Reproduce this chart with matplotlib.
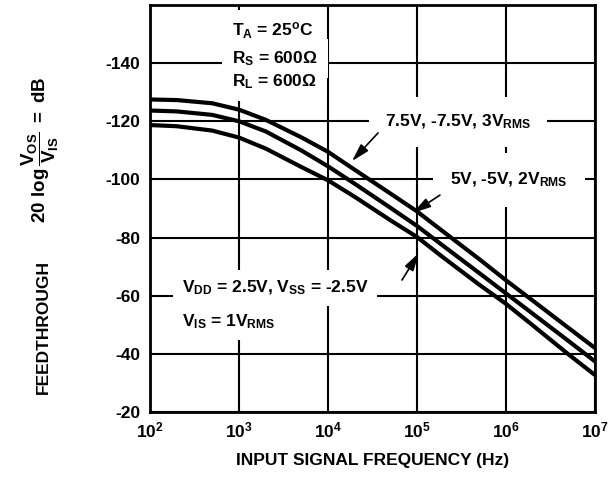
import matplotlib
matplotlib.use('Agg')
import matplotlib.pyplot as plt
from matplotlib.ticker import NullLocator

plt.rcParams['font.family'] = ['Liberation Sans', 'DejaVu Sans']
plt.rcParams['font.weight'] = 'bold'
plt.rcParams['axes.labelweight'] = 'bold'
plt.rcParams['mathtext.fontset'] = 'custom'
plt.rcParams['mathtext.rm'] = 'Liberation Sans:bold'
plt.rcParams['mathtext.it'] = 'Liberation Sans:bold'
plt.rcParams['mathtext.bf'] = 'Liberation Sans:bold'

# データ
freq = [1e2, 2e2, 5e2, 1e3, 2e3, 5e3, 1e4, 2e4, 5e4, 1e5, 2e5, 5e5, 1e6, 2e6, 5e6, 1e7]
ft_75 = [-127.5, -127.3, -126.2, -124.0, -120.5, -114.5, -109.5, -103.3, -95.2,
         -89.0, -81.9, -72.6, -65.3, -58.3, -49.0, -42.0]
ft_5 = [-123.7, -123.4, -122.2, -120.0, -116.5, -110.0, -104.5, -98.5, -90.3,
        -84.0, -77.0, -67.8, -60.8, -53.8, -44.5, -37.4]
ft_25 = [-118.7, -118.3, -116.8, -114.4, -110.6, -104.3, -99.7, -94.0, -86.0,
         -80.2, -73.0, -63.8, -57.2, -49.8, -39.9, -32.7]

x_ticks = [1e2, 1e3, 1e4, 1e5, 1e6, 1e7]
x_labels = [r'$10^2$', r'$10^3$', r'$10^4$', r'$10^5$', r'$10^6$', r'$10^7$']
y_ticks = [-20, -40, -60, -80, -100, -120, -140]
y_labels = ['-20', '-40', '-60', '-80', '-100', '-120', '-140']

fs = 12.5

fig = plt.figure(figsize=(6.15, 4.82), dpi=100)
ax = fig.add_axes([150/615, 70/482, 445/615, 407/482])

for ys in (ft_75, ft_5, ft_25):
    ax.plot(freq, ys, color='black', lw=3.0, solid_capstyle='butt',
            solid_joinstyle='round', zorder=2)

ax.set_xscale('log')
ax.set_xlim(1e2, 1e7)
ax.set_ylim(-20, -160)
ax.set_xticks(x_ticks, x_labels, fontsize=fs)
ax.xaxis.set_minor_locator(NullLocator())
ax.set_yticks(y_ticks, y_labels, fontsize=fs)
ax.tick_params(length=0, pad=7)
ax.tick_params(axis='x', pad=6)
ax.set_axisbelow(True)
ax.grid(True, color='black', lw=1.5)
for s in ax.spines.values():
    s.set_linewidth(2)

ax.set_xlabel('INPUT SIGNAL FREQUENCY (Hz)', fontsize=fs, labelpad=9)


def label(x, y, s, pad):
    # 白い背景 (グリッドを隠す) を下に、文字を上に描く
    ax.text(x, y, s, fontsize=fs, va='center', color='white', zorder=3,
            bbox=dict(fc='white', ec='none', boxstyle='square,pad=%g' % pad))
    ax.text(x, y, s, fontsize=fs, va='center', color='black', zorder=4)


# 条件のテキスト
label(834, -151.1, r'T$_A$ = 25$^o$C', 0.6)
label(834, -141.6, r'R$_S$ = 600$\Omega$', 0.6)
label(834, -133.8, r'R$_L$ = 600$\Omega$', 0.6)

label(4.37e4, -119.8, r'7.5V, -7.5V, 3V$_{RMS}$', 0.9)
label(2.35e5, -99.8, r'5V, -5V, 2V$_{RMS}$', 1.0)

label(229, -62.7, r'V$_{DD}$ = 2.5V, V$_{SS}$ = -2.5V', 0.5)
label(229, -51.0, r'V$_{IS}$ = 1V$_{RMS}$', 0.5)

# 矢印
ap = dict(arrowstyle='-|>,head_width=0.25,head_length=0.9', color='black', lw=1.2,
          shrinkA=0, shrinkB=0, mutation_scale=12)
ax.annotate('', xy=(1.86e4, -106.3), xytext=(3.65e4, -116.0), arrowprops=ap, zorder=5)
ax.annotate('', xy=(9.0e4, -88.5), xytext=(1.81e5, -94.6), arrowprops=ap, zorder=5)
ax.annotate('', xy=(1.05e5, -74.7), xytext=(6.78e4, -65.4), arrowprops=ap, zorder=5)

# y軸ラベル
fig.text(43/615, 1 - 327/482, 'FEEDTHROUGH', rotation=90, ha='center', va='center', fontsize=fs)
fig.text(40/615, 1 - 150/482, r'$20\ \log\dfrac{V_{OS}}{V_{IS}}\ =\ dB$', rotation=90,
         ha='center', va='center', fontsize=13.5)

fig.savefig('out.png', dpi=100)
